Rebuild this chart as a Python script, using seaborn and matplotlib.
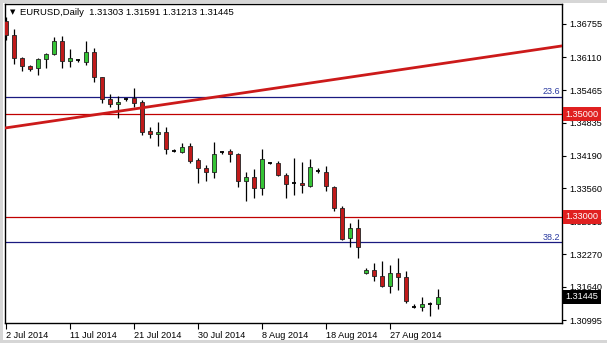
import matplotlib
matplotlib.use("Agg")
import matplotlib.pyplot as plt
import matplotlib.transforms as mtrans
from matplotlib.patches import Rectangle
import numpy as np
import pandas as pd
import seaborn as sns

# ---------------- data ----------------
dates = ["2 Jul", "3 Jul", "4 Jul", "6 Jul", "7 Jul", "8 Jul", "9 Jul", "10 Jul", "11 Jul",
         "13 Jul", "14 Jul", "15 Jul", "16 Jul", "17 Jul", "18 Jul", "20 Jul", "21 Jul",
         "22 Jul", "23 Jul", "24 Jul", "25 Jul", "27 Jul", "28 Jul", "29 Jul", "30 Jul",
         "31 Jul", "1 Aug", "3 Aug", "4 Aug", "5 Aug", "6 Aug", "7 Aug", "8 Aug",
         "10 Aug", "11 Aug", "12 Aug", "13 Aug", "14 Aug", "15 Aug", "17 Aug", "18 Aug",
         "19 Aug", "20 Aug", "21 Aug", "22 Aug", "24 Aug", "25 Aug", "26 Aug", "27 Aug",
         "28 Aug", "29 Aug", "31 Aug", "1 Sep", "2 Sep", "3 Sep"]

opens = [1.36813, 1.36541, 1.36093, 1.35938, 1.35899, 1.36074, 1.36171, 1.36424, 1.36035,
         1.36054, 1.36016, 1.36210, 1.35724, 1.35296, 1.35198, 1.35286, 1.35315,
         1.35237, 1.34673, 1.34614, 1.34653, 1.34284, 1.34264, 1.34381, 1.34108,
         1.33953, 1.33875, 1.34264, 1.34284, 1.34225, 1.33700, 1.33778, 1.33564,
         1.34050, 1.34050, 1.33817, 1.33661, 1.33661, 1.33603, 1.33895, 1.33875,
         1.33583, 1.33175, 1.32591, 1.32785, 1.31909, 1.31968, 1.31851, 1.31657,
         1.31909, 1.31832, 1.31248, 1.31248, 1.31306, 1.31303]
highs = [1.36891, 1.36658, 1.36113, 1.35957, 1.36093, 1.36191, 1.36502, 1.36522, 1.36268,
         1.36074, 1.36424, 1.36288, 1.35724, 1.35393, 1.35354, 1.35315, 1.35510,
         1.35276, 1.34751, 1.34848, 1.34751, 1.34323, 1.34439, 1.34439, 1.34147,
         1.34011, 1.34459, 1.34284, 1.34323, 1.34245, 1.33875, 1.33933, 1.34323,
         1.34070, 1.34089, 1.33856, 1.34147, 1.34070, 1.34128, 1.33953, 1.33992,
         1.33603, 1.33213, 1.32883, 1.32961, 1.32007, 1.32104, 1.32143, 1.32065,
         1.32202, 1.31948, 1.31306, 1.31443, 1.31346, 1.31591]
lows = [1.36444, 1.35977, 1.35840, 1.35840, 1.35763, 1.35899, 1.36152, 1.35899, 1.35918,
        1.36016, 1.35957, 1.35626, 1.35218, 1.35140, 1.34926, 1.35257, 1.35140,
        1.34595, 1.34537, 1.34381, 1.34225, 1.34264, 1.34245, 1.34050, 1.33661,
        1.33700, 1.33759, 1.34225, 1.34070, 1.33583, 1.33311, 1.33369, 1.33427,
        1.34031, 1.33797, 1.33369, 1.33427, 1.33466, 1.33583, 1.33856, 1.33505,
        1.33116, 1.32552, 1.32416, 1.32202, 1.31890, 1.31754, 1.31637, 1.31520,
        1.31579, 1.31326, 1.31229, 1.31170, 1.31073, 1.31213]
closes = [1.36541, 1.36093, 1.35938, 1.35879, 1.36074, 1.36171, 1.36424, 1.36035, 1.36093,
          1.36054, 1.36210, 1.35724, 1.35296, 1.35198, 1.35237, 1.35286, 1.35218,
          1.34653, 1.34614, 1.34653, 1.34323, 1.34284, 1.34361, 1.34089, 1.33953,
          1.33875, 1.34225, 1.34264, 1.34225, 1.33700, 1.33778, 1.33564, 1.34128,
          1.34050, 1.33817, 1.33642, 1.33661, 1.33622, 1.33972, 1.33895, 1.33603,
          1.33175, 1.32571, 1.32785, 1.32416, 1.31968, 1.31851, 1.31657, 1.31909,
          1.31832, 1.31365, 1.31248, 1.31306, 1.31306, 1.31445]

price_ticks = [1.36755, 1.36110, 1.35465, 1.34835, 1.34190, 1.33560, 1.32915,
               1.32270, 1.31640, 1.30995]
price_tick_labels = ["1.36755", "1.36110", "1.35465", "1.34835", "1.34190", "1.33560",
                     "1.32915", "1.32270", "1.31640", "1.30995"]
date_tick_dates = ["2 Jul", "11 Jul", "21 Jul", "30 Jul", "8 Aug", "18 Aug", "27 Aug"]
date_tick_labels = ["2 Jul 2014", "11 Jul 2014", "21 Jul 2014", "30 Jul 2014",
                    "8 Aug 2014", "18 Aug 2014", "27 Aug 2014"]

fib_labels = ["23.6", "38.2"]
fib_prices = [1.35340, 1.32510]
level_prices = [1.35000, 1.33000]
level_labels = ["1.35000", "1.33000"]
trend_bars = [1, 55]
trend_prices = [1.34734, 1.35973]

symbol = "EURUSD,Daily"
last_bar_label = "1.31445"

# ---------------- figure ----------------
sns.set_theme(style="white")
plt.rcParams["font.family"] = ["Liberation Sans", "DejaVu Sans"]

W, H = 607, 343
fig = plt.figure(figsize=(W / 100, H / 100), dpi=100, facecolor="#d6d6d6")
fig.patches.append(Rectangle((3 / W, 3 / H), 1 - 3 / W, 1 - 6 / H, transform=fig.transFigure,
                             facecolor="white", edgecolor="none", zorder=-5))
ax = fig.add_axes([5 / W, 20 / H, 557 / W, 319 / H])
ax.set_facecolor("white")

df = pd.DataFrame({"date": dates, "open": opens, "high": highs, "low": lows, "close": closes})
df["x"] = np.arange(1, len(df) + 1)

bull_c, bear_c = "#35c435", "#c01a1a"
# wicks
ax.vlines(df["x"], df["low"], df["high"], color="black", lw=0.9, zorder=2)
# bodies
doji = df["open"] == df["close"]
nd = df[~doji]
colors = [bull_c if c > o else bear_c for o, c in zip(nd["open"], nd["close"])]
ax.bar(nd["x"], (nd["close"] - nd["open"]).abs(), bottom=np.minimum(nd["open"], nd["close"]),
       width=0.52, color=colors, edgecolor="#222222", linewidth=0.6, zorder=3)
dj = df[doji]
ax.hlines(dj["open"], dj["x"] - 0.3, dj["x"] + 0.3, color="black", lw=1.3, zorder=3)

# horizontal levels
for p in level_prices:
    ax.axhline(p, color="#c00000", lw=0.9, zorder=1)
for p in fib_prices:
    ax.axhline(p, color="#1a1a80", lw=0.9, zorder=1)

xmin, xmax = 0.875, 0.875 + 557 / 8
ax.set_xlim(xmin, xmax)
ax.set_ylim(1.30937, 1.37144)

# trend line (extended across the chart)
slope = (trend_prices[1] - trend_prices[0]) / (trend_bars[1] - trend_bars[0])
tx = np.array([xmin, xmax])
ty = trend_prices[0] + slope * (tx - trend_bars[0])
sns.lineplot(x=tx, y=ty, ax=ax, color="#cc1a1a", lw=2.0, zorder=4)

blend = mtrans.blended_transform_factory(ax.transAxes, ax.transData)
for lab, p in zip(fib_labels, fib_prices):
    ax.text(0.996, p + 0.00012, lab, transform=blend, ha="right", va="bottom",
            fontsize=6.5, color="#2a3aa0", zorder=5)

# axes styling
for s in ax.spines.values():
    s.set_visible(True)
    s.set_color("black")
    s.set_linewidth(1.0)

ax.yaxis.tick_right()
ax.set_yticks(price_ticks)
ax.set_yticklabels(price_tick_labels)
ax.tick_params(axis="y", which="major", direction="out", length=3, width=0.8,
               labelsize=6.6, pad=2, colors="black", right=True, left=False)

pos = [dates.index(d) + 1 for d in date_tick_dates]
ax.set_xticks(pos)
ax.set_xticklabels(date_tick_labels)
ax.tick_params(axis="x", which="major", direction="out", length=4, width=0.8,
               labelsize=6.6, pad=1.5, colors="black", bottom=True)
for t in ax.get_xticklabels():
    t.set_ha("left")
ax.set_xlabel("")
ax.set_ylabel("")
if ax.get_legend():
    ax.get_legend().remove()

# price boxes on the right axis
for lab, p in zip(level_labels, level_prices):
    ax.annotate(lab, xy=(1.0, p), xycoords=blend, xytext=(2.5, 0), textcoords="offset points",
                ha="left", va="center", fontsize=6.6, color="white", zorder=10,
                bbox=dict(boxstyle="square,pad=0.25", fc="#e02020", ec="none"),
                annotation_clip=False)
ax.annotate(last_bar_label, xy=(1.0, closes[-1]), xycoords=blend, xytext=(2.5, 0),
            textcoords="offset points", ha="left", va="center", fontsize=6.6, color="white",
            zorder=10, bbox=dict(boxstyle="square,pad=0.25", fc="black", ec="none"),
            annotation_clip=False)

# header
hdr = f"{symbol}  {opens[-1]:.5f} {highs[-1]:.5f} {lows[-1]:.5f} {closes[-1]:.5f}"
fig.text(20 / W, 1 - 12.5 / H, hdr, ha="left", va="center", fontsize=6.8, color="black")
fig.text(10 / W, 1 - 12.5 / H, "\u25bc", ha="left", va="center", fontsize=5, color="black",
         family=["DejaVu Sans"])

fig.savefig("out.png", dpi=100, facecolor=fig.get_facecolor())
